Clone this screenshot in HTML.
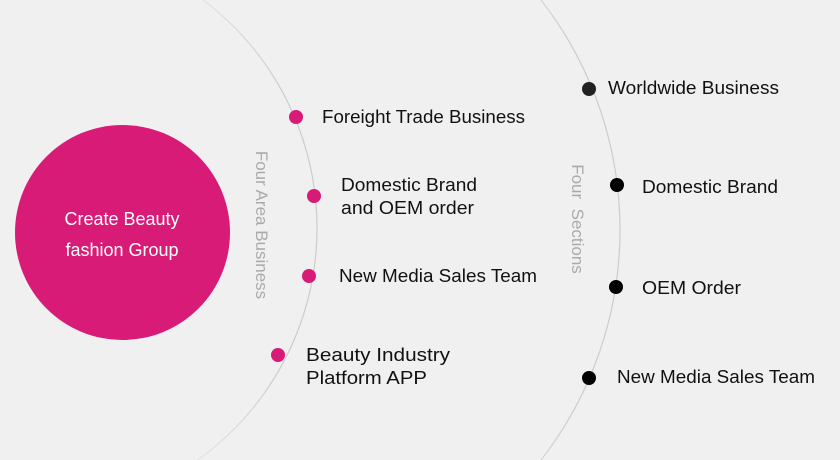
<!DOCTYPE html>
<html><head><meta charset="utf-8"><style>
html,body{margin:0;padding:0;background:#f0f0f0;width:840px;height:460px;overflow:hidden;}
svg{display:block;}
text{font-family:"Liberation Sans",sans-serif;}
</style></head><body>
<svg width="840" height="460" viewBox="0 0 840 460" xmlns="http://www.w3.org/2000/svg">
<defs>
<linearGradient id="g" x1="0" y1="0" x2="0" y2="1">
<stop offset="0" stop-color="#ccc" stop-opacity="0"/>
<stop offset="0.25" stop-color="#ccc" stop-opacity="1"/>
<stop offset="0.75" stop-color="#ccc" stop-opacity="1"/>
<stop offset="1" stop-color="#ccc" stop-opacity="0"/>
</linearGradient>
</defs>
<rect width="840" height="460" fill="#f0f0f0"/>
<circle cx="32" cy="228" r="285" fill="none" stroke="url(#g)" stroke-width="1.2"/>
<circle cx="246" cy="230" r="374" fill="none" stroke="url(#g)" stroke-width="1.2"/>
<circle cx="122.5" cy="232.5" r="107.5" fill="#d81b77"/>
<text x="122" y="225" fill="#fff" font-size="18" text-anchor="middle">Create Beauty</text>
<text x="122" y="256" fill="#fff" font-size="18" text-anchor="middle">fashion Group</text>
<text transform="translate(256,225) rotate(90)" fill="#aaa" font-size="17" text-anchor="middle">Four Area Business</text>
<text transform="translate(572,219) rotate(90)" fill="#aaa" font-size="17" text-anchor="middle" xml:space="preserve">Four  Sections</text>
<g fill="#d81b77">
<circle cx="296" cy="117" r="7"/><circle cx="314" cy="196" r="7"/>
<circle cx="309" cy="276" r="7"/><circle cx="278" cy="355" r="7"/>
</g>
<circle cx="589" cy="89" r="7" fill="#222"/>
<g fill="#000">
<circle cx="617" cy="185" r="7"/><circle cx="616" cy="287" r="7"/><circle cx="589" cy="378" r="7"/>
</g>
<g fill="#111" font-size="18" lengthAdjust="spacingAndGlyphs">
<text x="322" y="123" textLength="203" lengthAdjust="spacingAndGlyphs">Foreight Trade Business</text>
<text x="341" y="191" textLength="136" lengthAdjust="spacingAndGlyphs">Domestic Brand</text>
<text x="341" y="214" textLength="133" lengthAdjust="spacingAndGlyphs">and OEM order</text>
<text x="339" y="282" textLength="198" lengthAdjust="spacingAndGlyphs">New Media Sales Team</text>
<text x="306" y="361" textLength="144" lengthAdjust="spacingAndGlyphs">Beauty Industry</text>
<text x="306" y="384" textLength="121" lengthAdjust="spacingAndGlyphs">Platform APP</text>
<text x="608" y="94" textLength="171" lengthAdjust="spacingAndGlyphs">Worldwide Business</text>
<text x="642" y="193" textLength="136" lengthAdjust="spacingAndGlyphs">Domestic Brand</text>
<text x="642" y="294" textLength="99" lengthAdjust="spacingAndGlyphs">OEM Order</text>
<text x="617" y="383" textLength="198" lengthAdjust="spacingAndGlyphs">New Media Sales Team</text>
</g>
</svg>
</body></html>
